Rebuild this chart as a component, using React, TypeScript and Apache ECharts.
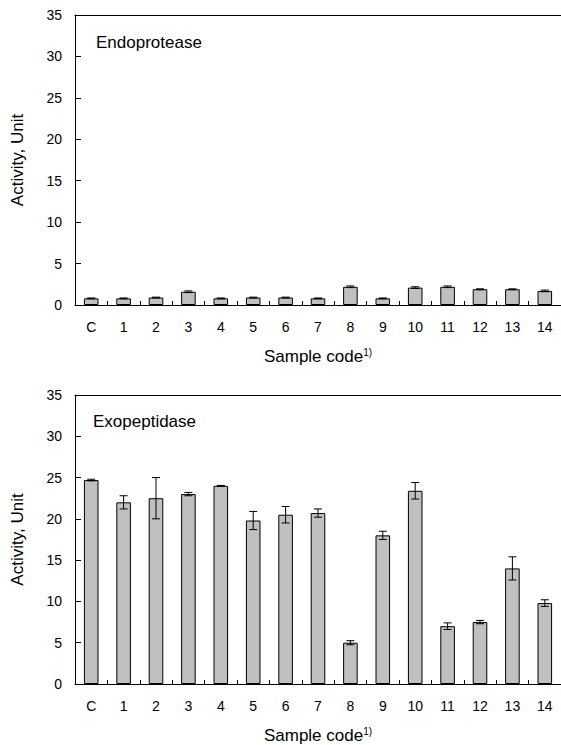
import React, { useEffect, useRef } from "react";
import * as echarts from "echarts";

const categories = ["C", "1", "2", "3", "4", "5", "6", "7", "8", "9", "10", "11", "12", "13", "14"];
const endoValues = [0.8, 0.8, 0.9, 1.6, 0.8, 0.9, 0.9, 0.8, 2.2, 0.8, 2.1, 2.2, 1.9, 1.9, 1.7];
const endoErrors = [0.05, 0.05, 0.05, 0.1, 0.05, 0.05, 0.05, 0.05, 0.1, 0.05, 0.1, 0.1, 0.05, 0.05, 0.1];
const exoValues = [24.7, 22.0, 22.5, 23.0, 24.0, 19.8, 20.5, 20.7, 5.0, 18.0, 23.4, 7.0, 7.5, 14.0, 9.8];
const exoErrors = [0.1, 0.8, 2.5, 0.2, 0.05, 1.1, 1.0, 0.5, 0.25, 0.5, 1.0, 0.4, 0.2, 1.4, 0.4];
const yMin = 0;
const yMax = 35;
const yStep = 5;
const panelTitles = ["Endoprotease", "Exopeptidase"];
const xAxisTitle = "Sample code";
const xAxisSup = "1)";
const yAxisTitle = "Activity, Unit";

const FONT = "'Liberation Sans', Arial, sans-serif";

export default function App() {
  const ref = useRef<HTMLDivElement>(null);
  useEffect(() => {
    if (!ref.current) return;
    const chart = echarts.init(ref.current, undefined, { renderer: "svg" });

    const grids = [
      { left: 75, right: -3, top: 15, height: 290 },
      { left: 75, right: -3, top: 395, height: 289 },
    ];

    const xAxes: any[] = [];
    const yAxes: any[] = [];
    const series: any[] = [];
    const datasets = [
      { v: endoValues, e: endoErrors },
      { v: exoValues, e: exoErrors },
    ];

    grids.forEach((_, gi) => {
      xAxes.push({
        type: "category",
        gridIndex: gi,
        data: categories,
        boundaryGap: true,
        position: "bottom",
        axisLine: { show: true, onZero: false, lineStyle: { color: "#000", width: 1 } },
        axisTick: { show: true, inside: true, length: 4, interval: 0, lineStyle: { color: "#000", width: 1 } },
        axisLabel: { color: "#000", fontSize: 14, fontFamily: FONT, margin: 15, interval: 0 },
        name: xAxisTitle + "{sup|" + xAxisSup + "}",
        nameLocation: "middle",
        nameGap: 42,
        nameTextStyle: {
          color: "#000",
          fontSize: 17,
          fontFamily: FONT,
          rich: { sup: { fontSize: 10, fontFamily: FONT, color: "#000", verticalAlign: "top", padding: [0, 0, 8, 0] } },
        },
      });
      // top border line
      xAxes.push({
        type: "category",
        gridIndex: gi,
        data: categories,
        position: "top",
        axisLine: { show: true, onZero: false, lineStyle: { color: "#000", width: 1 } },
        axisTick: { show: false },
        axisLabel: { show: false },
      });
      yAxes.push({
        type: "value",
        gridIndex: gi,
        min: yMin,
        max: yMax,
        interval: yStep,
        axisLine: { show: true, lineStyle: { color: "#000", width: 1 } },
        axisTick: { show: true, inside: true, length: 6, lineStyle: { color: "#000" } },
        axisLabel: { color: "#000", fontSize: 14, fontFamily: FONT, margin: 13 },
        splitLine: { show: false },
        name: yAxisTitle,
        nameLocation: "middle",
        nameGap: 49,
        nameTextStyle: { color: "#000", fontSize: 17, fontFamily: FONT },
      });
      series.push({
        type: "bar",
        xAxisIndex: gi * 2,
        yAxisIndex: gi,
        data: datasets[gi].v,
        barWidth: "45%",
        itemStyle: { color: "#c0c0c0", borderColor: "#000", borderWidth: 1 },
        z: 2,
      });
      // error bars
      series.push({
        type: "custom",
        xAxisIndex: gi * 2,
        yAxisIndex: gi,
        z: 3,
        data: datasets[gi].v.map((v, i) => [i, v, datasets[gi].e[i]]),
        renderItem: (params: any, api: any) => {
          const x = api.value(0);
          const v = api.value(1);
          const e = api.value(2);
          const hi = api.coord([x, v + e]);
          const lo = api.coord([x, v - e]);
          const half = 4;
          const st = { stroke: "#000", lineWidth: 1 };
          return {
            type: "group",
            children: [
              { type: "line", shape: { x1: hi[0], y1: hi[1], x2: lo[0], y2: lo[1] }, style: st },
              { type: "line", shape: { x1: hi[0] - half, y1: hi[1], x2: hi[0] + half, y2: hi[1] }, style: st },
              { type: "line", shape: { x1: lo[0] - half, y1: lo[1], x2: lo[0] + half, y2: lo[1] }, style: st },
            ],
          };
        },
      });
    });

    chart.setOption({
      animation: false,
      backgroundColor: "#fff",
      grid: grids,
      xAxis: xAxes,
      yAxis: yAxes,
      series,
      graphic: [
        { type: "text", left: 96, top: 34, style: { text: panelTitles[0], fontSize: 17, fontFamily: FONT, fill: "#000" } },
        { type: "text", left: 93, top: 413, style: { text: panelTitles[1], fontSize: 17, fontFamily: FONT, fill: "#000" } },
      ],
    });
    return () => chart.dispose();
  }, []);
  return <div ref={ref} style={{ position: "fixed", left: 0, top: 0, width: 561, height: 745 }} />;
}
